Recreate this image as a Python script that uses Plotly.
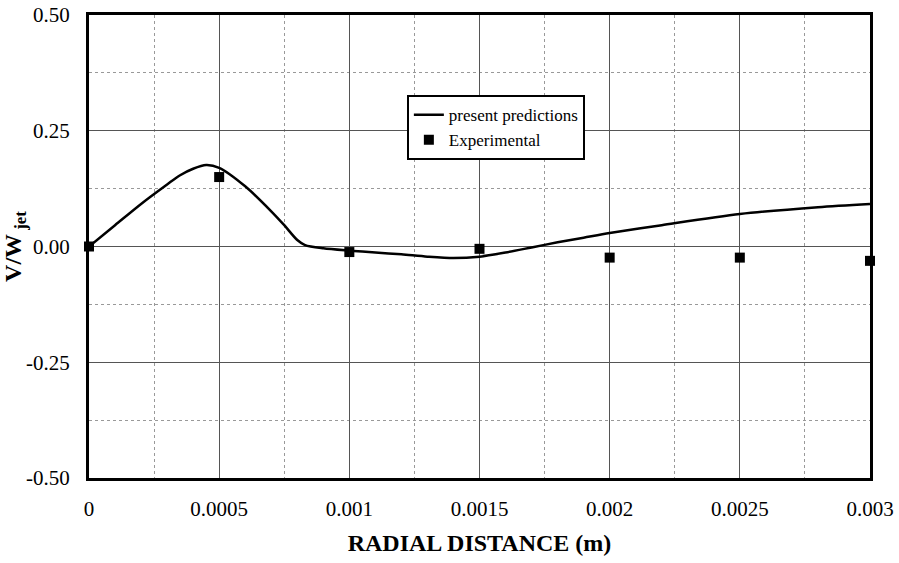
import plotly.graph_objects as go

# Predicted curve
pred_x = [0, 0.0001, 0.0002, 0.0003, 0.00035, 0.0004, 0.00045, 0.0005, 0.0006, 0.0007, 0.00075,
          0.0008, 0.00083, 0.0009, 0.001, 0.0011, 0.0012, 0.0013, 0.0014, 0.0015, 0.0016,
          0.0017, 0.0018, 0.0019, 0.002, 0.0022, 0.0025, 0.0028, 0.003]
pred_y = [0.0, 0.046, 0.092, 0.134, 0.154, 0.168, 0.176, 0.17, 0.13, 0.076, 0.046,
          0.014, 0.003, -0.004, -0.009, -0.013, -0.017, -0.022, -0.025, -0.022, -0.013,
          -0.002, 0.009, 0.019, 0.029, 0.046, 0.07, 0.085, 0.092]

# Experimental points
exp_x = [0, 0.0005, 0.001, 0.0015, 0.002, 0.0025, 0.003]
exp_y = [0.0, 0.15, -0.012, -0.005, -0.024, -0.024, -0.031]

x_tickvals = [0, 0.0005, 0.001, 0.0015, 0.002, 0.0025, 0.003]
x_ticktext = ["0", "0.0005", "0.001", "0.0015", "0.002", "0.0025", "0.003"]
y_tickvals = [-0.5, -0.25, 0.0, 0.25, 0.5]
y_ticktext = ["-0.50", "-0.25", "0.00", "0.25", "0.50"]

fig = go.Figure()
fig.add_trace(go.Scatter(x=pred_x, y=pred_y, mode="lines", name="present predictions",
                         line=dict(color="black", width=2.5, shape="spline", smoothing=0.8)))
fig.add_trace(go.Scatter(x=exp_x, y=exp_y, mode="markers", name="Experimental",
                         marker=dict(symbol="square", color="black", size=10),
                         cliponaxis=False))

font = "Times New Roman, Liberation Serif, serif"
tickfont = dict(family=font, size=21, color="black")
fig.update_layout(
    width=899, height=563,
    margin=dict(l=89, r=29, t=15, b=85, autoexpand=False),
    paper_bgcolor="white", plot_bgcolor="white",
    font=dict(family=font, color="black", size=21),
    showlegend=True,
    legend=dict(x=0.407, y=0.827, xanchor="left", yanchor="top",
                bgcolor="white", bordercolor="black", borderwidth=2,
                font=dict(family=font, size=17, color="black")),
    xaxis=dict(range=[0, 0.003], tickvals=x_tickvals, ticktext=x_ticktext,
               tickfont=tickfont, automargin=False,
               showgrid=True, gridcolor="#555", gridwidth=1,
               minor=dict(dtick=0.00025, tick0=0, showgrid=True, gridcolor="#999",
                          griddash="dot", gridwidth=1),
               showline=True, linecolor="black", linewidth=3, mirror=True,
               zeroline=False, ticks="", ticklabelstandoff=10,
               title=dict(text="<b>RADIAL DISTANCE (m)</b>",
                          font=dict(family=font, size=24, color="black"), standoff=14)),
    yaxis=dict(range=[-0.5, 0.5], tickvals=y_tickvals, ticktext=y_ticktext,
               tickfont=tickfont, automargin=False,
               showgrid=True, gridcolor="#555", gridwidth=1,
               minor=dict(dtick=0.125, tick0=0, showgrid=True, gridcolor="#999",
                          griddash="dot", gridwidth=1),
               showline=True, linecolor="black", linewidth=3, mirror=True,
               zeroline=False, ticks="", ticklabelstandoff=12,
               title=dict(text="<b>V/W<sub> jet</sub></b>",
                          font=dict(family=font, size=24, color="black"), standoff=8)),
)

fig.write_html("out.html")
